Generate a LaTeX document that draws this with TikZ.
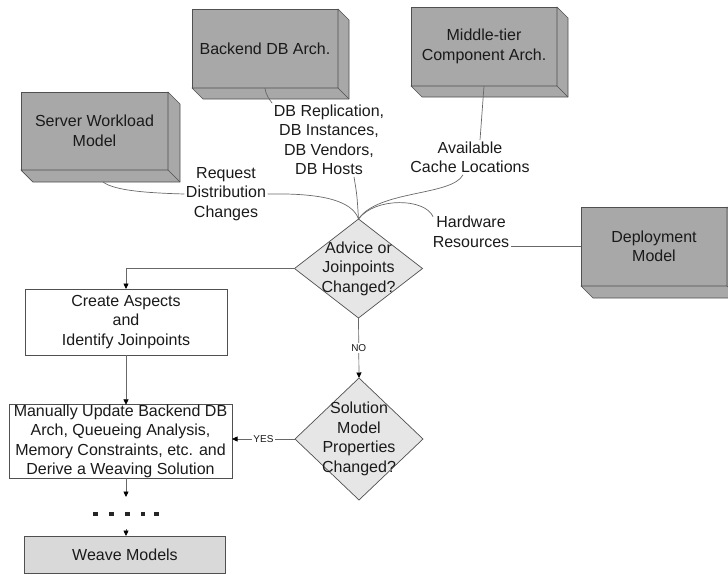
\documentclass[tikz,border=0pt]{standalone}
\usepackage{fontspec}
\setmainfont{Liberation Sans}
\usetikzlibrary{calc,arrows.meta,shapes.geometric}

\definecolor{boxgray}{HTML}{A8A8A8}
\definecolor{edgegray}{HTML}{505050}
\definecolor{linegray}{HTML}{686868}
\definecolor{diafill}{HTML}{E6E6E6}
\definecolor{weavefill}{HTML}{D9D9D9}
\definecolor{inkc}{HTML}{1A1A1A}

\tikzset{
  lbl/.style={font=\fontsize{16}{19.5}\selectfont, text=inkc, align=center, inner sep=1.5pt},
  smalllbl/.style={font=\fontsize{10}{12}\selectfont, text=inkc, fill=white, inner sep=1pt},
  face/.style={lbl, draw=edgegray, fill=boxgray, line width=0.7pt, inner sep=0pt, outer sep=0pt},
  procbox/.style={lbl, draw=edgegray, fill=white, line width=0.7pt, inner sep=0pt, outer sep=0pt},
  decision/.style={diamond, draw=edgegray, fill=diafill, line width=0.7pt, inner sep=0pt, outer sep=0pt},
  conn/.style={draw=linegray, line width=0.7pt},
  flow/.style={draw=linegray, line width=0.7pt, -{Triangle[length=5.5pt,width=5pt,fill=black,color=black]}},
}

% side and bottom faces of a raised block, drawn below/right of its front face
\newcommand\drawextrusion[2]{%
  \filldraw[draw=edgegray, fill=boxgray, line width=0.7pt, line join=round]
    (#1.north east) -- ++(#2,#2) -- ($(#1.south east)+(#2,#2)$)
    -- ($(#1.south west)+(#2,#2)$) -- (#1.south west) -- (#1.south east) -- cycle;
  \draw[edgegray, line width=0.7pt] (#1.south east) -- ++(#2,#2);
}

\begin{document}
\begin{tikzpicture}[x=1pt, y=-1pt]
\useasboundingbox (0,0) rectangle (728,574);

% model blocks
\node[face, minimum width=147pt, minimum height=78pt] (swm) at (94.5,131) {Server Workload\\Model};
\drawextrusion{swm}{12}
\node[face, minimum width=146pt, minimum height=79pt] (bdb) at (265,48.5) {Backend DB Arch.};
\drawextrusion{bdb}{11}
\node[face, minimum width=146pt, minimum height=79pt] (mid) at (484,46.5) {Middle-tier\\Component Arch.};
\drawextrusion{mid}{11}
\node[face, minimum width=146pt, minimum height=79pt] (dep) at (654,246.5) {Deployment\\Model};
\drawextrusion{dep}{12}

% labels on the incoming connectors
\node[lbl] (req) at (226,194) {Request\\Distribution\\Changes};
\node[lbl] (dbl) at (329,140) {DB Replication,\\DB Instances,\\DB Vendors,\\DB Hosts};
\node[lbl] (cache) at (470,157.5) {Available\\Cache Locations};
\node[lbl] (hw) at (471,232) {Hardware\\Resources};

% decisions
\node[decision, minimum width=128pt, minimum height=99pt] (d1) at (358.5,268.5) {};
\node[lbl] (d1t) at (d1) {Advice or\\Joinpoints\\Changed?};
\node[decision, minimum width=128pt, minimum height=122pt] (d2) at (359,439) {};
\node[lbl] (d2t) at (d2) {Solution\\Model\\Properties\\Changed?};

% process steps
\node[procbox, minimum width=202pt, minimum height=66pt] (create) at (126,322) {Create Aspects\\and\\Identify Joinpoints};
\node[procbox, minimum width=223pt, minimum height=73pt] (man) at (120.5,441.5) {Manually Update Backend DB\\Arch, Queueing Analysis,\\Memory Constraints, etc. and\\Derive a Weaving Solution};
\node[procbox, fill=weavefill, minimum width=201pt, minimum height=37pt] (weave) at (125,554.5) {Weave Models};

% inputs converging on the first decision
\coordinate (swmout) at ($(swm.south)+(8.5,12)$);
\draw[conn] (swmout) .. controls (115,191) and (150,193) .. (req.west);
\draw[conn] (req.east) .. controls (320,193) and (352,200) .. (d1.north);
\draw[conn] (bdb.south) .. controls (266,96) and (270,100) .. (dbl.north west);
\draw[conn] ($(dbl.south)+(25,0)$) .. controls (357,195) .. (d1.north);
\draw[conn] (mid.south) -- ($(cache.north)+(10,0)$);
\draw[conn] ($(cache.south)+(-7,0)$) .. controls (452,196) and (378,190) .. (d1.north);
\draw[conn] (dep.west) -- (dep.west -| hw.east);
\draw[conn] ($(hw.north west)+(2,2)$) .. controls (425,198) and (375,197) .. (d1.north);

% flow
\draw[flow] (d1.west) -| (create.north);
\draw[flow] (create.south) -- (create.south |- man.north);
\coordinate (gapA) at (126,497);
\coordinate (gapB) at (126,529);
\draw[flow] (create.south |- man.south) -- (gapA);
\foreach \dx in {95.5,111.5,127.5,143,156.5}
  \fill[black!85] (\dx-2.3,511.8) rectangle (\dx+2.3,516.2);
\draw[flow] (gapB) -- (gapB |- weave.north);
\draw[flow] (d1.south) -- node[smalllbl] (nolbl) {NO} (d2.north);
\draw[flow] (d2.west) -- node[smalllbl] (yeslbl) {YES} (d2.west -| man.east);
\end{tikzpicture}
\end{document}
